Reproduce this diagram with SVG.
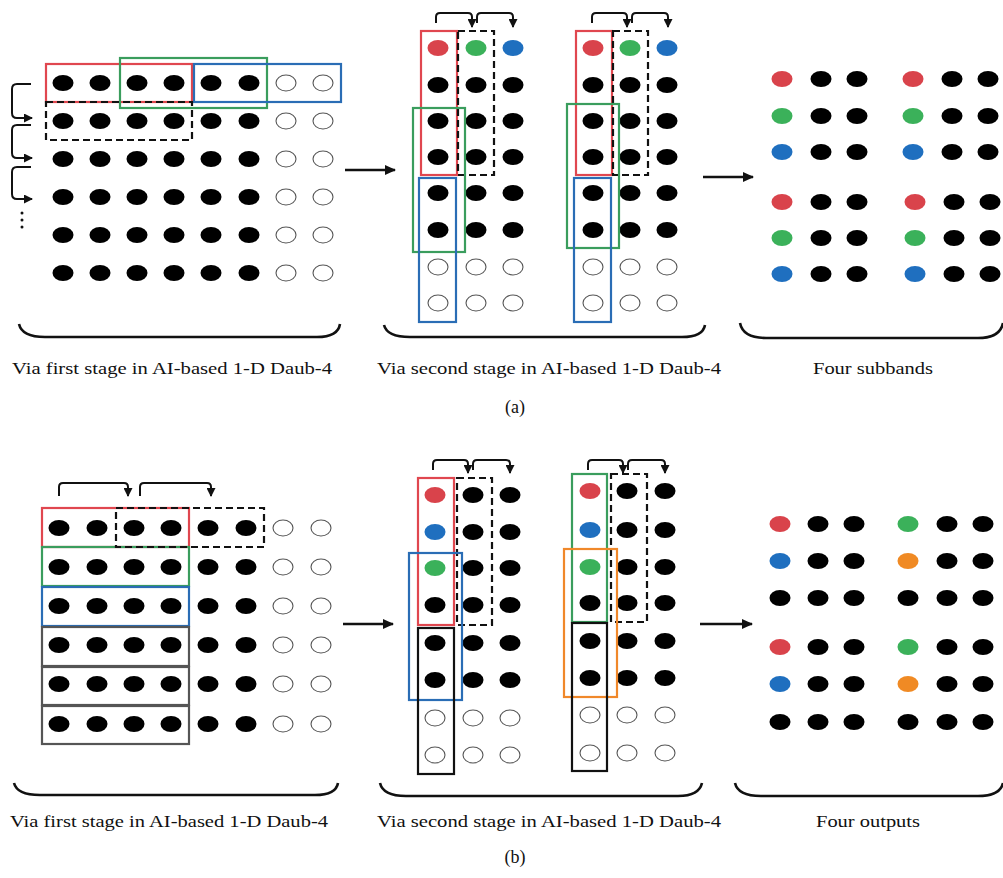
<svg xmlns="http://www.w3.org/2000/svg" xmlns:xlink="http://www.w3.org/1999/xlink" width="1003" height="878" viewBox="0 0 1003 878">
<style>
.bx{fill:none;stroke-width:2.2}
.r{stroke:#e0474f}.g{stroke:#3a9d5d}.b{stroke:#2a6db5}.or{stroke:#f0882a}.k{stroke:#111}.gr{stroke:#555}
.ds{fill:none;stroke:#111;stroke-width:2.2;stroke-dasharray:7,4}
.br{fill:none;stroke:#111;stroke-width:2.6}
.ar{fill:none;stroke:#111;stroke-width:2;marker-end:url(#ah)}
.arm{fill:none;stroke:#111;stroke-width:2.5;marker-end:url(#ahm)}
.lb{font-family:"Liberation Serif","Times New Roman",serif;font-size:17px;fill:#111}
.cap{font-family:"Liberation Serif","Times New Roman",serif;font-size:18px;fill:#111}
</style>
<defs>
<ellipse id="k" rx="10.5" ry="8"/>
<ellipse id="o" rx="10" ry="8" fill="#fff" stroke="#555" stroke-width="1.1"/>
<marker id="ah" markerUnits="userSpaceOnUse" markerWidth="9" markerHeight="9" refX="8" refY="4.5" orient="auto"><path d="M0,0 L9,4.5 L0,9 Z" fill="#111"/></marker>
<marker id="ahm" markerUnits="userSpaceOnUse" markerWidth="11" markerHeight="10" refX="10" refY="5" orient="auto"><path d="M0,0 L11,5 L0,10 Z" fill="#111"/></marker>
</defs>
<rect width="1003" height="878" fill="#fff"/>

<!-- (a) stage 1 -->
<g id="a-stage1">
<use href="#k" x="63" y="83"/><use href="#k" x="100" y="83"/><use href="#k" x="137" y="83"/><use href="#k" x="174" y="83"/><use href="#k" x="211" y="83"/><use href="#k" x="249" y="83"/><use href="#o" x="286" y="83"/><use href="#o" x="323" y="83"/>
<use href="#k" x="63" y="121"/><use href="#k" x="100" y="121"/><use href="#k" x="137" y="121"/><use href="#k" x="174" y="121"/><use href="#k" x="211" y="121"/><use href="#k" x="249" y="121"/><use href="#o" x="286" y="121"/><use href="#o" x="323" y="121"/>
<use href="#k" x="63" y="159"/><use href="#k" x="100" y="159"/><use href="#k" x="137" y="159"/><use href="#k" x="174" y="159"/><use href="#k" x="211" y="159"/><use href="#k" x="249" y="159"/><use href="#o" x="286" y="159"/><use href="#o" x="323" y="159"/>
<use href="#k" x="63" y="197"/><use href="#k" x="100" y="197"/><use href="#k" x="137" y="197"/><use href="#k" x="174" y="197"/><use href="#k" x="211" y="197"/><use href="#k" x="249" y="197"/><use href="#o" x="286" y="197"/><use href="#o" x="323" y="197"/>
<use href="#k" x="63" y="235"/><use href="#k" x="100" y="235"/><use href="#k" x="137" y="235"/><use href="#k" x="174" y="235"/><use href="#k" x="211" y="235"/><use href="#k" x="249" y="235"/><use href="#o" x="286" y="235"/><use href="#o" x="323" y="235"/>
<use href="#k" x="63" y="273"/><use href="#k" x="100" y="273"/><use href="#k" x="137" y="273"/><use href="#k" x="174" y="273"/><use href="#k" x="211" y="273"/><use href="#k" x="249" y="273"/><use href="#o" x="286" y="273"/><use href="#o" x="323" y="273"/>
<rect class="bx r" x="46" y="64" width="146" height="38"/>
<rect class="bx g" x="120" y="58" width="147" height="50"/>
<rect class="bx b" x="194" y="64" width="147" height="38"/>
<rect class="ds" x="46" y="102" width="146" height="38"/>
<g fill="#111"><circle cx="22" cy="213" r="1.5"/><circle cx="22" cy="220" r="1.5"/><circle cx="22" cy="227" r="1.5"/></g>
</g>

<!-- (a) stage 2 -->
<g id="a-stage2-left">
<use href="#k" x="438" y="48" fill="#d9434b"/><use href="#k" x="476" y="48" fill="#3bb15a"/><use href="#k" x="513" y="48" fill="#1f6fbf"/>
<use href="#k" x="438" y="85"/><use href="#k" x="476" y="85"/><use href="#k" x="513" y="85"/>
<use href="#k" x="438" y="121"/><use href="#k" x="476" y="121"/><use href="#k" x="513" y="121"/>
<use href="#k" x="438" y="157"/><use href="#k" x="476" y="157"/><use href="#k" x="513" y="157"/>
<use href="#k" x="438" y="193"/><use href="#k" x="476" y="193"/><use href="#k" x="513" y="193"/>
<use href="#k" x="438" y="230"/><use href="#k" x="476" y="230"/><use href="#k" x="513" y="230"/>
<use href="#o" x="438" y="267"/><use href="#o" x="476" y="267"/><use href="#o" x="513" y="267"/>
<use href="#o" x="438" y="303"/><use href="#o" x="476" y="303"/><use href="#o" x="513" y="303"/>
<rect class="bx r" x="421" y="31" width="36" height="144"/>
<rect class="ds" x="458" y="31" width="36" height="144"/>
<rect class="bx g" x="413" y="108" width="52" height="144"/>
<rect class="bx b" x="419" y="178" width="37" height="144"/>
</g>
<g id="a-stage2-right">
<use href="#k" x="593" y="48" fill="#d9434b"/><use href="#k" x="630" y="48" fill="#3bb15a"/><use href="#k" x="667" y="48" fill="#1f6fbf"/>
<use href="#k" x="593" y="85"/><use href="#k" x="630" y="85"/><use href="#k" x="667" y="85"/>
<use href="#k" x="593" y="121"/><use href="#k" x="630" y="121"/><use href="#k" x="667" y="121"/>
<use href="#k" x="593" y="157"/><use href="#k" x="630" y="157"/><use href="#k" x="667" y="157"/>
<use href="#k" x="593" y="193"/><use href="#k" x="630" y="193"/><use href="#k" x="667" y="193"/>
<use href="#k" x="593" y="230"/><use href="#k" x="630" y="230"/><use href="#k" x="667" y="230"/>
<use href="#o" x="593" y="267"/><use href="#o" x="630" y="267"/><use href="#o" x="667" y="267"/>
<use href="#o" x="593" y="303"/><use href="#o" x="630" y="303"/><use href="#o" x="667" y="303"/>
<rect class="bx r" x="576" y="31" width="36" height="144"/>
<rect class="ds" x="613" y="31" width="35" height="144"/>
<rect class="bx g" x="567" y="104" width="52" height="144"/>
<rect class="bx b" x="574" y="178" width="37" height="144"/>
</g>

<!-- (a) subbands -->
<g id="a-subbands">
<use href="#k" x="782" y="79" fill="#d9434b"/><use href="#k" x="821" y="79"/><use href="#k" x="857" y="79"/><use href="#k" x="913" y="79" fill="#d9434b"/><use href="#k" x="952" y="79"/><use href="#k" x="988" y="79"/>
<use href="#k" x="782" y="116" fill="#3bb15a"/><use href="#k" x="821" y="116"/><use href="#k" x="857" y="116"/><use href="#k" x="913" y="116" fill="#3bb15a"/><use href="#k" x="952" y="116"/><use href="#k" x="988" y="116"/>
<use href="#k" x="782" y="152" fill="#1f6fbf"/><use href="#k" x="821" y="152"/><use href="#k" x="857" y="152"/><use href="#k" x="913" y="152" fill="#1f6fbf"/><use href="#k" x="952" y="152"/><use href="#k" x="988" y="152"/>
<use href="#k" x="782" y="202" fill="#d9434b"/><use href="#k" x="821" y="202"/><use href="#k" x="857" y="202"/><use href="#k" x="915" y="202" fill="#d9434b"/><use href="#k" x="954" y="202"/><use href="#k" x="990" y="202"/>
<use href="#k" x="782" y="238" fill="#3bb15a"/><use href="#k" x="821" y="238"/><use href="#k" x="857" y="238"/><use href="#k" x="915" y="238" fill="#3bb15a"/><use href="#k" x="954" y="238"/><use href="#k" x="990" y="238"/>
<use href="#k" x="782" y="274" fill="#1f6fbf"/><use href="#k" x="821" y="274"/><use href="#k" x="857" y="274"/><use href="#k" x="915" y="274" fill="#1f6fbf"/><use href="#k" x="954" y="274"/><use href="#k" x="990" y="274"/>
</g>

<!-- (b) stage 1 -->
<g id="b-stage1">
<use href="#k" x="59" y="528"/><use href="#k" x="97" y="528"/><use href="#k" x="134" y="528"/><use href="#k" x="171" y="528"/><use href="#k" x="208" y="528"/><use href="#k" x="246" y="528"/><use href="#o" x="283" y="528"/><use href="#o" x="321" y="528"/>
<use href="#k" x="59" y="567"/><use href="#k" x="97" y="567"/><use href="#k" x="134" y="567"/><use href="#k" x="171" y="567"/><use href="#k" x="208" y="567"/><use href="#k" x="246" y="567"/><use href="#o" x="283" y="567"/><use href="#o" x="321" y="567"/>
<use href="#k" x="59" y="606"/><use href="#k" x="97" y="606"/><use href="#k" x="134" y="606"/><use href="#k" x="171" y="606"/><use href="#k" x="208" y="606"/><use href="#k" x="246" y="606"/><use href="#o" x="283" y="606"/><use href="#o" x="321" y="606"/>
<use href="#k" x="59" y="645"/><use href="#k" x="97" y="645"/><use href="#k" x="134" y="645"/><use href="#k" x="171" y="645"/><use href="#k" x="208" y="645"/><use href="#k" x="246" y="645"/><use href="#o" x="283" y="645"/><use href="#o" x="321" y="645"/>
<use href="#k" x="59" y="684"/><use href="#k" x="97" y="684"/><use href="#k" x="134" y="684"/><use href="#k" x="171" y="684"/><use href="#k" x="208" y="684"/><use href="#k" x="246" y="684"/><use href="#o" x="283" y="684"/><use href="#o" x="321" y="684"/>
<use href="#k" x="59" y="724"/><use href="#k" x="97" y="724"/><use href="#k" x="134" y="724"/><use href="#k" x="171" y="724"/><use href="#k" x="208" y="724"/><use href="#k" x="246" y="724"/><use href="#o" x="283" y="724"/><use href="#o" x="321" y="724"/>
<rect class="bx r" x="42" y="508" width="147" height="39"/>
<rect class="bx g" x="42" y="547" width="147" height="39"/>
<rect class="bx b" x="42" y="587" width="147" height="39"/>
<rect class="bx gr" x="42" y="627" width="147" height="39"/>
<rect class="bx gr" x="42" y="667" width="147" height="38"/>
<rect class="bx gr" x="42" y="706" width="147" height="38"/>
<rect class="ds" x="116" y="508" width="148" height="39"/>
</g>

<!-- (b) stage 2 -->
<g id="b-stage2-left">
<use href="#k" x="435" y="495" fill="#d9434b"/><use href="#k" x="473" y="495"/><use href="#k" x="510" y="495"/>
<use href="#k" x="435" y="532" fill="#1f6fbf"/><use href="#k" x="473" y="532"/><use href="#k" x="510" y="532"/>
<use href="#k" x="435" y="568" fill="#3bb15a"/><use href="#k" x="473" y="568"/><use href="#k" x="510" y="568"/>
<use href="#k" x="435" y="605"/><use href="#k" x="473" y="605"/><use href="#k" x="510" y="605"/>
<use href="#k" x="435" y="643"/><use href="#k" x="473" y="643"/><use href="#k" x="510" y="643"/>
<use href="#k" x="435" y="680"/><use href="#k" x="473" y="680"/><use href="#k" x="510" y="680"/>
<use href="#o" x="435" y="718"/><use href="#o" x="473" y="718"/><use href="#o" x="510" y="718"/>
<use href="#o" x="435" y="755"/><use href="#o" x="473" y="755"/><use href="#o" x="510" y="755"/>
<rect class="bx r" x="418" y="478" width="36" height="147"/>
<rect class="ds" x="457" y="478" width="35" height="147"/>
<rect class="bx b" x="409" y="553" width="53" height="147"/>
<rect class="bx k" x="418" y="628" width="36" height="146"/>
</g>
<g id="b-stage2-right">
<use href="#k" x="590" y="491" fill="#d9434b"/><use href="#k" x="627" y="491"/><use href="#k" x="665" y="491"/>
<use href="#k" x="590" y="530" fill="#1f6fbf"/><use href="#k" x="627" y="530"/><use href="#k" x="665" y="530"/>
<use href="#k" x="590" y="567" fill="#3bb15a"/><use href="#k" x="627" y="567"/><use href="#k" x="665" y="567"/>
<use href="#k" x="590" y="603"/><use href="#k" x="627" y="603"/><use href="#k" x="665" y="603"/>
<use href="#k" x="590" y="641"/><use href="#k" x="627" y="641"/><use href="#k" x="665" y="641"/>
<use href="#k" x="590" y="678"/><use href="#k" x="627" y="678"/><use href="#k" x="665" y="678"/>
<use href="#o" x="590" y="715"/><use href="#o" x="627" y="715"/><use href="#o" x="665" y="715"/>
<use href="#o" x="590" y="753"/><use href="#o" x="627" y="753"/><use href="#o" x="665" y="753"/>
<rect class="bx g" x="572" y="474" width="35" height="148"/>
<rect class="ds" x="611" y="474" width="36" height="148"/>
<rect class="bx or" x="564" y="549" width="53" height="148"/>
<rect class="bx k" x="572" y="623" width="35" height="148"/>
</g>

<!-- (b) outputs -->
<g id="b-outputs">
<use href="#k" x="780" y="524" fill="#d9434b"/><use href="#k" x="818" y="524"/><use href="#k" x="854" y="524"/><use href="#k" x="908" y="524" fill="#3bb15a"/><use href="#k" x="947" y="524"/><use href="#k" x="983" y="524"/>
<use href="#k" x="780" y="561" fill="#1f6fbf"/><use href="#k" x="818" y="561"/><use href="#k" x="854" y="561"/><use href="#k" x="908" y="561" fill="#f08a24"/><use href="#k" x="947" y="561"/><use href="#k" x="983" y="561"/>
<use href="#k" x="780" y="598"/><use href="#k" x="818" y="598"/><use href="#k" x="854" y="598"/><use href="#k" x="908" y="598"/><use href="#k" x="947" y="598"/><use href="#k" x="983" y="598"/>
<use href="#k" x="780" y="647" fill="#d9434b"/><use href="#k" x="818" y="647"/><use href="#k" x="854" y="647"/><use href="#k" x="908" y="647" fill="#3bb15a"/><use href="#k" x="947" y="647"/><use href="#k" x="983" y="647"/>
<use href="#k" x="780" y="684" fill="#1f6fbf"/><use href="#k" x="818" y="684"/><use href="#k" x="854" y="684"/><use href="#k" x="908" y="684" fill="#f08a24"/><use href="#k" x="947" y="684"/><use href="#k" x="983" y="684"/>
<use href="#k" x="780" y="722"/><use href="#k" x="818" y="722"/><use href="#k" x="854" y="722"/><use href="#k" x="908" y="722"/><use href="#k" x="947" y="722"/><use href="#k" x="983" y="722"/>
</g>

<!-- connectors -->
<g id="connectors">
<path class="ar" d="M31,84 H17 Q12,84 12,89 V113 Q12,118 17,118 H32"/>
<path class="ar" d="M31,125 H17 Q12,125 12,130 V153 Q12,158 17,158 H32"/>
<path class="ar" d="M31,167 H17 Q12,167 12,172 V194 Q12,199 17,199 H32"/>
<path class="ar" d="M436,23 V17 Q436,13 440,13 H468 Q472,13 472,17 V27"/>
<path class="ar" d="M477,23 V17 Q477,13 481,13 H509 Q513,13 513,17 V27"/>
<path class="ar" d="M592,23 V17 Q592,13 596,13 H623 Q627,13 627,17 V27"/>
<path class="ar" d="M632,23 V17 Q632,13 636,13 H664 Q668,13 668,17 V27"/>
<path class="ar" d="M59,496 V487 Q59,483 63,483 H124 Q128,483 128,487 V496"/>
<path class="ar" d="M140,496 V487 Q140,483 144,483 H207 Q211,483 211,487 V496"/>
<path class="ar" d="M433,470 V464 Q433,460 437,460 H464 Q468,460 468,464 V473"/>
<path class="ar" d="M473,470 V464 Q473,460 477,460 H506 Q510,460 510,464 V473"/>
<path class="ar" d="M588,470 V464 Q588,460 592,460 H619 Q623,460 623,464 V473"/>
<path class="ar" d="M628,470 V464 Q628,460 632,460 H661 Q665,460 665,464 V473"/>
<path class="arm" d="M345,170 H395"/>
<path class="arm" d="M703,177 H753"/>
<path class="arm" d="M343,624 H393"/>
<path class="arm" d="M700,624 H752"/>
</g>

<!-- braces -->
<g id="braces">
<path class="br" d="M19,324 Q22,337 45,337 H317 Q338,337 340,324"/>
<path class="br" d="M384,325 Q387,337 410,337 H682 Q703,337 705,325"/>
<path class="br" d="M740,323 Q743,338 766,338 H978 Q1000,338 1003,323"/>
<path class="br" d="M14,783 Q17,795 40,795 H315 Q336,795 338,783"/>
<path class="br" d="M380,783 Q383,796 406,796 H678 Q699,796 702,783"/>
<path class="br" d="M735,783 Q738,796 761,796 H978 Q1000,796 1003,783"/>
</g>

<!-- labels -->
<g id="labels">
<text class="lb" x="12" y="374" textLength="320" lengthAdjust="spacingAndGlyphs">Via first stage in AI-based 1-D Daub-4</text>
<text class="lb" x="377" y="374" textLength="344" lengthAdjust="spacingAndGlyphs">Via second stage in AI-based 1-D Daub-4</text>
<text class="lb" x="813" y="374" textLength="120" lengthAdjust="spacingAndGlyphs">Four subbands</text>
<text class="cap" x="515" y="413" text-anchor="middle">(a)</text>
<text class="lb" x="10" y="827" textLength="318" lengthAdjust="spacingAndGlyphs">Via first stage in AI-based 1-D Daub-4</text>
<text class="lb" x="377" y="827" textLength="344" lengthAdjust="spacingAndGlyphs">Via second stage in AI-based 1-D Daub-4</text>
<text class="lb" x="816" y="827" textLength="104" lengthAdjust="spacingAndGlyphs">Four outputs</text>
<text class="cap" x="515" y="863" text-anchor="middle">(b)</text>
</g>
</svg>
